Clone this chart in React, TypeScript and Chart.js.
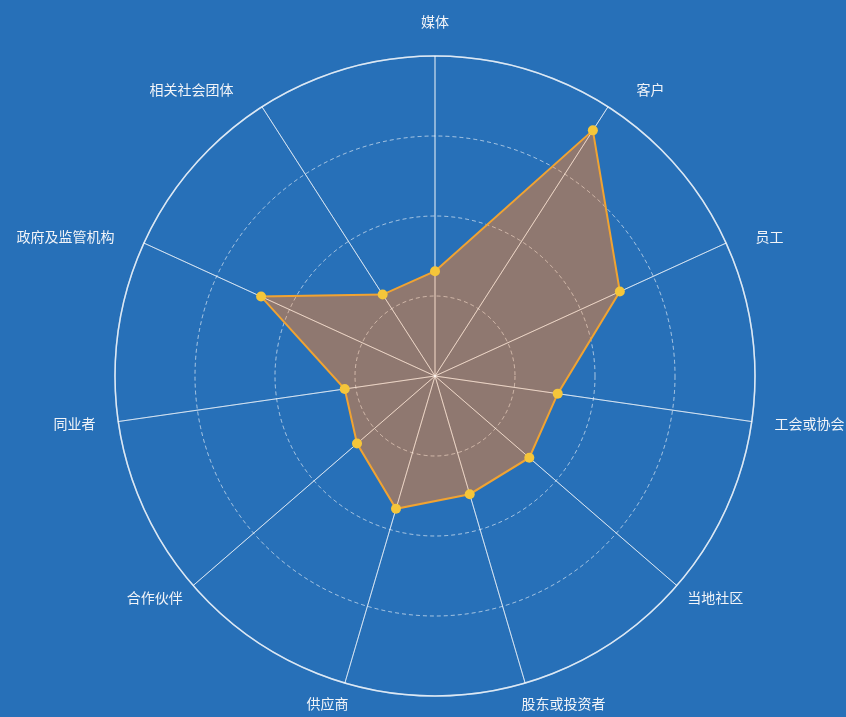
import React, { useEffect, useRef } from "react";
import { Chart, registerables } from "chart.js";

Chart.register(...registerables);

const categories = [
  "媒体",
  "客户",
  "员工",
  "工会或协会",
  "当地社区",
  "股东或投资者",
  "供应商",
  "合作伙伴",
  "同业者",
  "政府及监管机构",
  "相关社会团体",
];

const scores = [1.31, 3.65, 2.54, 1.55, 1.56, 1.54, 1.73, 1.29, 1.14, 2.39, 1.21];

const scaleMin = 0;
const scaleMax = 4;
const scaleStep = 1;

const BG = "#2770b8";

// Re-draws the scale's own grid over the area fill (lines stay visible through it)
const gridOverFillPlugin = {
  id: "gridOverFill",
  beforeDatasetsDraw(chart: any) {
    const scale = chart.scales.r;
    if (scale) scale.drawGrid();
  },
};

const labelPlugin = {
  id: "customPointLabels",
  afterDraw(chart: any) {
    const scale = chart.scales.r;
    if (!scale) return;
    const ctx = chart.ctx;
    const R = scale.drawingArea;
    ctx.save();
    ctx.font = '14px "Noto Sans CJK SC", "Noto Sans", sans-serif';
    ctx.fillStyle = "#f2f4f8";
    ctx.textAlign = "center";
    ctx.textBaseline = "middle";
    const labels = chart.data.labels as string[];
    labels.forEach((label, i) => {
      const p = scale.getPointPosition(i, R);
      const s = (p.x - scale.xCenter) / R;
      const c = -(p.y - scale.yCenter) / R;
      const w = ctx.measureText(label).width;
      const sign = Math.abs(s) < 0.05 ? 0 : Math.sign(s);
      let cx: number;
      let cy: number;
      if (sign === 0) {
        cx = p.x;
        cy = scale.yCenter - c * (R + 34);
      } else {
        cx = scale.xCenter + s * (R + 20) + sign * (w / 2 + 5 + 15 * c);
        cy = scale.yCenter - c * (R + 15 + 7 * c * c);
      }
      ctx.fillText(label, cx, cy);
    });
    ctx.restore();
  },
};

export default function App() {
  const canvasRef = useRef<HTMLCanvasElement | null>(null);

  useEffect(() => {
    document.body.style.margin = "0";
    document.body.style.background = BG;
    const canvas = canvasRef.current;
    if (!canvas) return;
    const chart = new Chart(canvas, {
      type: "radar",
      data: {
        labels: categories,
        datasets: [
          {
            label: "得分",
            data: scores,
            fill: true,
            backgroundColor: "rgba(247,128,40,0.5)",
            borderColor: "#f0a332",
            borderWidth: 2,
            pointBackgroundColor: "#f5c63a",
            pointBorderColor: "#f5c63a",
            pointBorderWidth: 0,
            pointRadius: 5,
            pointHoverRadius: 5,
            tension: 0,
          },
        ],
      },
      options: {
        responsive: false,
        animation: false,
        layout: {
          padding: { left: 115, right: 91, top: 56, bottom: 21 },
        },
        plugins: {
          legend: { display: false },
          tooltip: { enabled: false },
          filler: { drawTime: "beforeDatasetsDraw" },
        } as any,
        scales: {
          r: {
            min: scaleMin,
            max: scaleMax,
            beginAtZero: true,
            ticks: { display: false, stepSize: scaleStep },
            pointLabels: { display: false },
            angleLines: {
              display: true,
              color: "rgba(255,255,255,0.55)",
              lineWidth: 1,
            },
            grid: {
              circular: true,
              color: (ctx: any) =>
                ctx.tick && ctx.tick.value === scaleMax
                  ? "rgba(255,255,255,0.6)"
                  : "rgba(255,255,255,0.33)",
              lineWidth: (ctx: any) =>
                ctx.tick && ctx.tick.value === scaleMax ? 1.5 : 1,
            },
            border: {
              dash: (ctx: any) =>
                ctx.tick && ctx.tick.value === scaleMax ? [] : [4, 3],
            } as any,
          },
        },
      },
      plugins: [gridOverFillPlugin, labelPlugin],
    });
    return () => chart.destroy();
  }, []);

  return (
    <div style={{ width: 846, height: 717, background: BG, overflow: "hidden" }}>
      <canvas ref={canvasRef} width={846} height={717} style={{ display: "block" }} />
    </div>
  );
}
